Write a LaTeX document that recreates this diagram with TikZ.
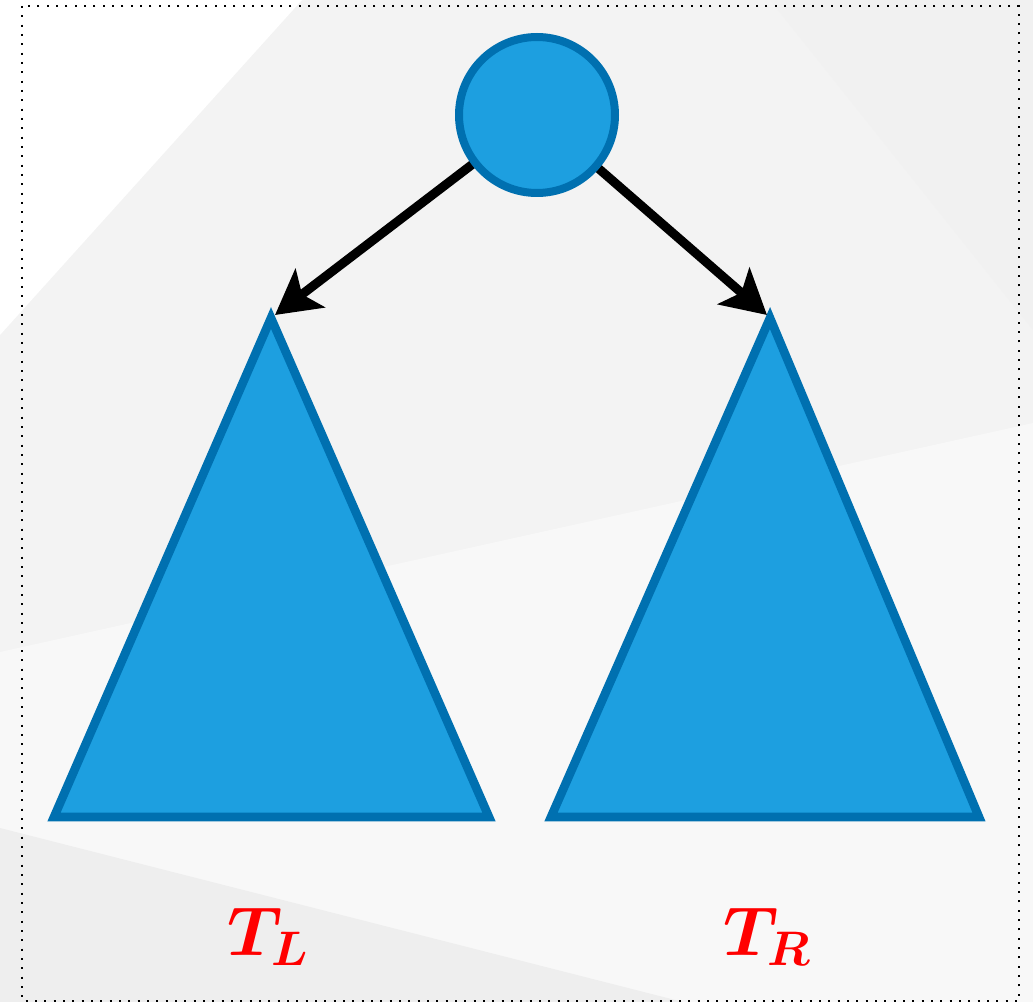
\documentclass[tikz,border=0pt]{standalone}
\usepackage{fix-cm}
\usepackage{amsmath,bm}
\usetikzlibrary{arrows.meta,backgrounds}
\definecolor{nodefill}{HTML}{1D9FE0}
\definecolor{nodeedge}{HTML}{0070B0}
\definecolor{bgmain}{HTML}{F3F3F3}
\definecolor{bglight}{HTML}{F8F8F8}
\definecolor{bgdark}{HTML}{EEEEEE}
\definecolor{bgtr}{HTML}{F1F1F1}
\pgfdeclarelayer{bglayer}
\pgfdeclarelayer{edgelayer}
\pgfsetlayers{bglayer,edgelayer,main}
\tikzset{
  treenode/.style={circle, draw=nodeedge, fill=nodefill, line width=6pt, minimum size=117pt, inner sep=0pt},
  subtree/.style={draw=nodeedge, fill=nodefill, line width=6.5pt, line join=miter},
  edgearrow/.style={line width=6.8pt, shorten <=-6pt, -{Stealth[length=33pt, width=36pt, inset=7.5pt]}},
  lbl/.style={text=red, font=\fontsize{52}{56}\selectfont, inner sep=0pt},
  frame/.style={line width=1.5pt, dash pattern=on 1.5pt off 5.5pt}
}
\begin{document}
\begin{tikzpicture}[x=0.75pt,y=-0.75pt]
\useasboundingbox (0,0) rectangle (1033,1002);
\begin{pgfonlayer}{bglayer}
\fill[bgmain] (0,0) rectangle (1033,1002);
\fill[bgtr] (770,0) -- (1033,0) -- (1033,330) -- cycle;
\fill[white] (0,0) -- (302,0) -- (0,335) -- cycle;
\fill[bglight] (0,652) -- (1033,423) -- (1033,1002) -- (0,1002) -- cycle;
\fill[bgdark] (0,828) -- (683,1002) -- (0,1002) -- cycle;
\draw[frame] (22,6) rectangle (1019,1001);
\end{pgfonlayer}
% subtrees
\draw[subtree] (54,817) -- (489,817) -- (271,318) -- cycle;
\draw[subtree] (551,817) -- (979,817) -- (770,318) -- cycle;
\coordinate (Ltip) at (275,315);
\coordinate (Rtip) at (767,315);
% root
\node[treenode] (root) at (537,115) {};
% edges
\begin{pgfonlayer}{edgelayer}
\draw[edgearrow] (root) -- (Ltip);
\draw[edgearrow] (root) -- (Rtip);
\end{pgfonlayer}
% labels
\node[lbl] (TL) at (268,937) {$\boldsymbol{T_L}$};
\node[lbl] (TR) at (767,937) {$\boldsymbol{T_R}$};
\end{tikzpicture}
\end{document}
